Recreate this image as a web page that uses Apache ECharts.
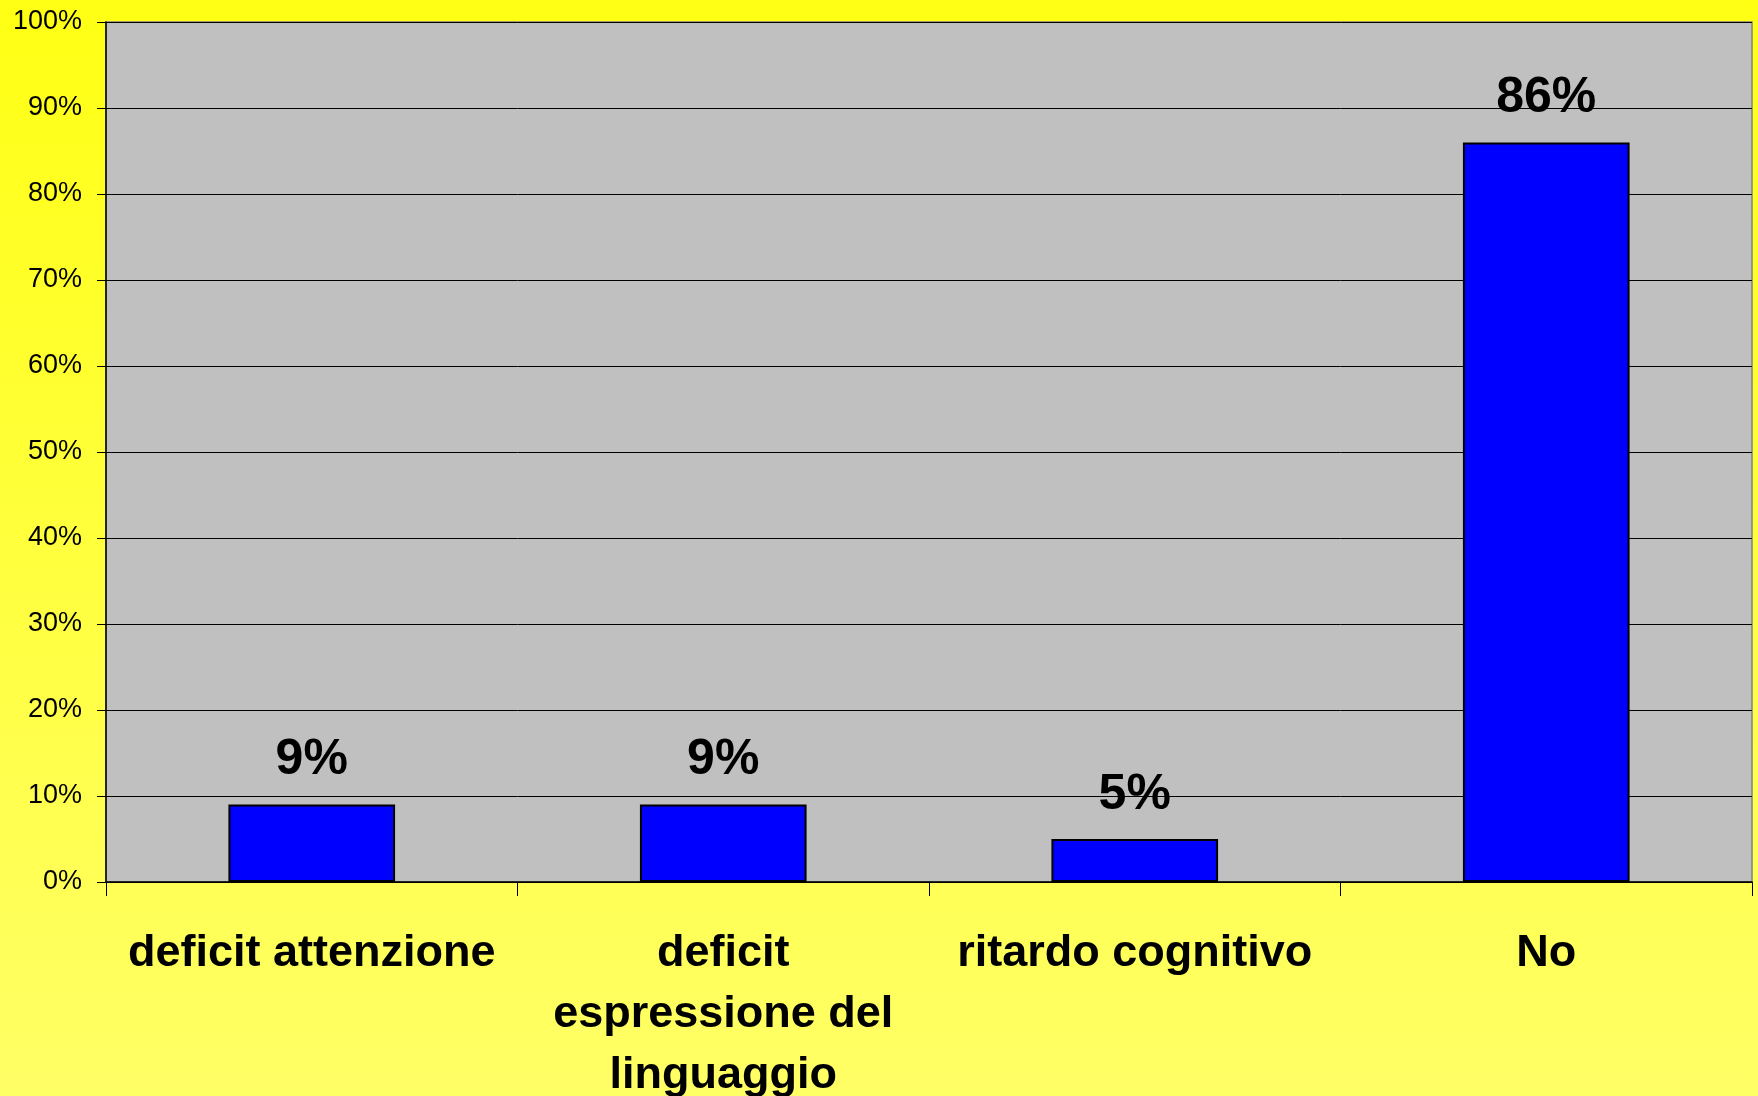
<!DOCTYPE html>
<html>
<head>
<meta charset="utf-8">
<script src="https://cdn.jsdelivr.net/npm/echarts@6/dist/echarts.min.js"></script>
<style>
  html, body { margin: 0; padding: 0; }
  #chart { width: 1758px; height: 1096px; }
</style>
</head>
<body>
<div id="chart"></div>
<script>
const categories = [
  "deficit attenzione",
  "deficit\nespressione del\nlinguaggio",
  "ritardo cognitivo",
  "No"
];
const values = [9, 9, 5, 86];

const chart = echarts.init(document.getElementById("chart"));
const font = 'Arial, "Liberation Sans", sans-serif';

let option = {
  backgroundColor: {
    type: "linear",
    x: 0, y: 0, x2: 0, y2: 1,
    colorStops: [
      { offset: 0, color: "#ffff14" },
      { offset: 1, color: "#ffff66" },
    ],
  },
  animation: false,
  grid: {
    left: 106,
    right: 6,
    top: 22,
    bottom: 214,
    outerBoundsMode: "none",
    containLabel: false,
    show: true,
    backgroundColor: "#c0c0c0",
    borderColor: "#808080",
    borderWidth: 1.5,
  },
  xAxis: {
    type: "category",
    data: categories,
    axisLine: { lineStyle: { color: "#000", width: 1.5 } },
    axisTick: { show: true, length: 14, lineStyle: { color: "#000" } },
    axisLabel: {
      interval: 0,
      margin: 41,
      color: "#000",
      fontFamily: font,
      fontWeight: "bold",
      fontSize: 45,
      lineHeight: 61,
    },
  },
  yAxis: {
    type: "value",
    min: 0,
    max: 100,
    interval: 10,
    axisLine: { show: true, lineStyle: { color: "#000", width: 1.5 } },
    axisTick: { show: true, length: 9, lineStyle: { color: "#000" } },
    splitLine: { lineStyle: { color: "#000", width: 1 } },
    axisLabel: {
      formatter: "{value}%",
      margin: 24,
      color: "#000",
      fontFamily: font,
      fontSize: 27,
    },
  },
  series: [
    {
      type: "bar",
      data: values,
      barWidth: "40.5%",
      itemStyle: { color: "#0000ff", borderColor: "#000", borderWidth: 2 },
      label: {
        show: true,
        position: "top",
        distance: 19,
        formatter: "{c}%",
        color: "#000",
        fontFamily: font,
        fontWeight: "bold",
        fontSize: 50,
      },
    },
  ],
};
chart.setOption(option);
</script>
</body>
</html>
